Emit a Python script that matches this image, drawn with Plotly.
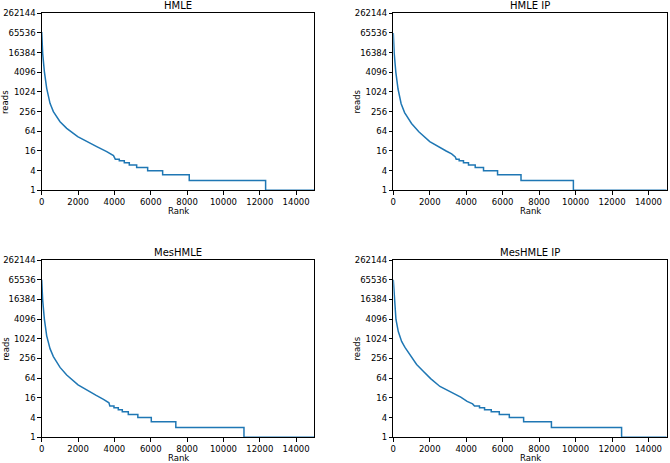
import math
import plotly.graph_objects as go
from plotly.subplots import make_subplots

# ---------------- data ----------------
panel_titles = ["HMLE", "HMLE IP", "MesHMLE", "MesHMLE IP"]

y_tick_values = [1, 4, 16, 64, 256, 1024, 4096, 16384, 65536, 262144]
x_tick_values = [0, 2000, 4000, 6000, 8000, 10000, 12000, 14000]

# smooth head of each rank curve: rank -> reads
hmle_head_rank = [0, 55, 147, 275, 458, 642, 1009, 1376, 1981, 2477, 3028, 3578, 3950]
hmle_head_reads = [70000, 15300, 4300, 1320, 460, 256, 126, 79, 44, 31, 21.7, 15.2, 11.5]

hmleip_head_rank = [0, 50, 140, 260, 430, 620, 1000, 1400, 2000, 2500, 2900, 3200, 3400]
hmleip_head_reads = [65000, 15300, 4096, 1260, 446, 239, 111, 62, 31, 21, 16, 13, 10.5]

mes_head_rank = [0, 55, 147, 275, 458, 642, 1009, 1376, 2000, 2500, 3000, 3400, 3700]
mes_head_reads = [65000, 15300, 4096, 1260, 512, 294, 137, 80, 40, 27, 19, 14.4, 11.3]

mesip_head_rank = [0, 55, 146, 274, 457, 640, 914, 1280, 1645, 2048, 2560, 3290, 3700, 4050, 4350]
mesip_head_reads = [65000, 16384, 3980, 1700, 850, 560, 335, 169, 104, 62, 35.8, 22.3, 17, 12.5, 10.5]

# integer-read plateaus in the tail: level -> first rank of the plateau
tail_levels = [9, 8, 7, 6, 5, 4, 3, 2, 1]
hmle_tail_start = [4050, 4270, 4545, 4820, 5225, 5830, 6655, 8119, 12321]
hmleip_tail_start = [3450, 3614, 3850, 4125, 4494, 4950, 5720, 7007, 9880]
mes_tail_start = [3750, 3977, 4215, 4435, 4765, 5290, 6030, 7380, 11130]
mesip_tail_start = [4455, 4730, 5007, 5374, 5815, 6365, 7150, 8675, 12525]
last_rank = 15000

heads = [(hmle_head_rank, hmle_head_reads), (hmleip_head_rank, hmleip_head_reads),
         (mes_head_rank, mes_head_reads), (mesip_head_rank, mesip_head_reads)]
tails = [hmle_tail_start, hmleip_tail_start, mes_tail_start, mesip_tail_start]

# ---------------- figure ----------------
W, H = 670, 463
fig = make_subplots(rows=2, cols=2)

line_color = "#1f77b4"
for i, ((hr, hv), ts) in enumerate(zip(heads, tails)):
    xs = list(hr)
    ys = list(hv)
    for j, lev in enumerate(tail_levels):
        end = ts[j + 1] if j + 1 < len(ts) else last_rank
        xs += [ts[j], end]
        ys += [lev, lev]
    fig.add_trace(go.Scatter(x=xs, y=ys, mode="lines",
                             line=dict(color=line_color, width=1.5),
                             showlegend=False, hoverinfo="skip"),
                  row=i // 2 + 1, col=i % 2 + 1)

# panel boxes in pixels (left, right, top, bottom)
boxes = [(41.7, 314.3, 13.3, 190.3), (393.3, 666.7, 13.3, 190.3),
         (41.7, 314.3, 260.0, 437.3), (393.3, 666.7, 260.0, 437.3)]

font_family = "DejaVu Sans"
tick_font = dict(family=font_family, size=8.5, color="black")
layout = {}
annotations = []
for i, (l, r, t, b) in enumerate(boxes):
    n = "" if i == 0 else str(i + 1)
    xd = [l / W, r / W]
    yd = [1 - b / H, 1 - t / H]
    layout["xaxis" + n] = dict(domain=xd, range=[0, 15000], tickvals=x_tick_values,
                               ticktext=[str(v) for v in x_tick_values], automargin=False,
                               ticks="outside", ticklen=3.5, tickwidth=0.8, tickcolor="black",
                               showline=True, linecolor="black", linewidth=0.8, mirror=True,
                               showgrid=False, zeroline=False, tickfont=tick_font)
    layout["yaxis" + n] = dict(domain=yd, type="log", range=[0, math.log10(262144)],
                               tickvals=y_tick_values, ticktext=[str(v) for v in y_tick_values],
                               automargin=False,
                               ticks="outside", ticklen=3.5, tickwidth=0.8, tickcolor="black",
                               showline=True, linecolor="black", linewidth=0.8, mirror=True,
                               showgrid=False, zeroline=False, tickfont=tick_font)
    annotations.append(dict(text=panel_titles[i], xref="paper", yref="paper",
                            x=(xd[0] + xd[1]) / 2, y=yd[1], xanchor="center", yanchor="bottom",
                            yshift=0, showarrow=False,
                            font=dict(family=font_family, size=10, color="black")))
    annotations.append(dict(text="Rank", xref="paper", yref="paper",
                            x=(xd[0] + xd[1]) / 2, y=1 - (b + 21) / H, xanchor="center",
                            yanchor="middle", showarrow=False,
                            font=dict(family=font_family, size=8.5, color="black")))
    annotations.append(dict(text="reads", xref="paper", yref="paper",
                            x=(l - 36.5) / W, y=(yd[0] + yd[1]) / 2, xanchor="center",
                            yanchor="middle", textangle=-90, showarrow=False,
                            font=dict(family=font_family, size=8.5, color="black")))

fig.update_layout(width=W, height=H, margin=dict(l=0, r=0, t=0, b=0),
                  paper_bgcolor="white", plot_bgcolor="white",
                  annotations=annotations, **layout)

fig.write_html("out.html", config={"displayModeBar": False},
               post_script="document.body.style.margin='0';document.body.style.overflow='hidden';")
